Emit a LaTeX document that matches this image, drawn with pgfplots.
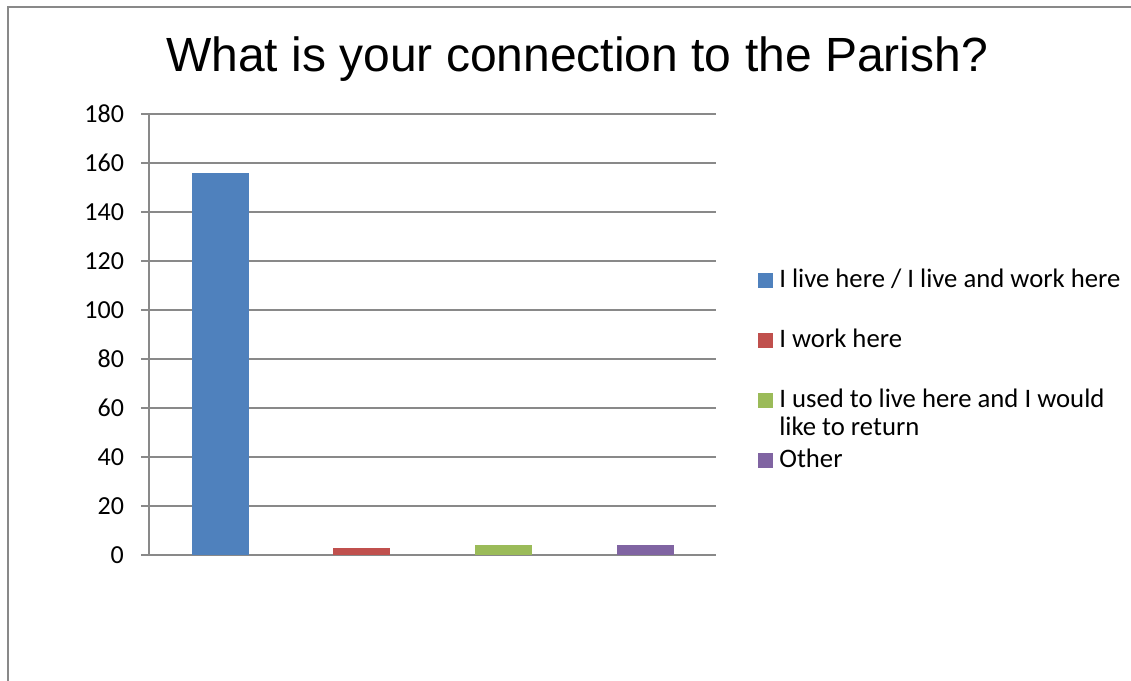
\documentclass[border=0pt]{standalone}
\usepackage{pgfplots}
\pgfplotsset{compat=1.18}
\usepackage{fontspec}
\setmainfont{Carlito}
\newfontfamily\titlefont{Liberation Sans}
\definecolor{cblue}{HTML}{4F81BD}
\definecolor{cred}{HTML}{C0504D}
\definecolor{cgreen}{HTML}{9BBB59}
\definecolor{cpurple}{HTML}{8064A2}
\definecolor{cgrid}{HTML}{898989}
\begin{document}
\begin{tikzpicture}[x=1pt,y=1pt]
\useasboundingbox (0,0) rectangle (1131,680);
\clip (0,0) rectangle (1131,680);
\fill[white] (0,0) rectangle (1131,680);
\draw[cgrid, line width=1.5pt] (8,-20) -- (8,673) -- (1150,673);
\node[font=\titlefont\fontsize{48}{56}\selectfont, anchor=base] at (577,608) {What is your connection to the Parish?};
\begin{axis}[
  at={(220pt,125pt)}, anchor=origin,
  scale only axis, width=567pt, height=441pt,
  ymin=0, ymax=180, ytick={0,20,...,180},
  xmin=-0.5, xmax=3.5, xtick=\empty,
  ybar, bar width=57pt, bar shift=0pt,
  axis x line*=bottom, axis y line*=left,
  axis line style={cgrid, line width=1.5pt, -},
  ymajorgrids, grid style={cgrid, line width=1.5pt},
  tick align=outside, major tick length=8pt,
  tick style={cgrid, line width=1.5pt},
  /pgf/number format/assume math mode=true,
  yticklabel style={font=\fontsize{26}{31}\selectfont, inner sep=0pt, anchor=east, xshift=-17pt},
  legend style={at={(606pt,289pt)}, anchor=north west, draw=none, fill=none,
    font=\fontsize{26.7}{32}\selectfont, row sep=35pt,
    nodes={inner sep=0pt, text height=19pt, text depth=6pt},
    legend cell align=left},
  legend image code/.code={\fill[#1] (0pt,-7pt) rectangle (15pt,8pt);},
]
\addplot[fill=cblue, draw=none] coordinates {(0,156)};
\addlegendentry{\hspace{6pt}I live here / I live and work here}
\addplot[fill=cred, draw=none] coordinates {(1,3)};
\addlegendentry{\hspace{6pt}I work here}
\addplot[fill=cgreen, draw=none] coordinates {(2,4)};
\addlegendentry{\hspace{6pt}\makebox[0pt][l]{\raisebox{-28pt}[0pt][0pt]{like to return}}I used to live here and I would}
\addplot[fill=cpurple, draw=none] coordinates {(3,4)};
\addlegendentry{\hspace{6pt}Other}
\end{axis}
\end{tikzpicture}
\end{document}
